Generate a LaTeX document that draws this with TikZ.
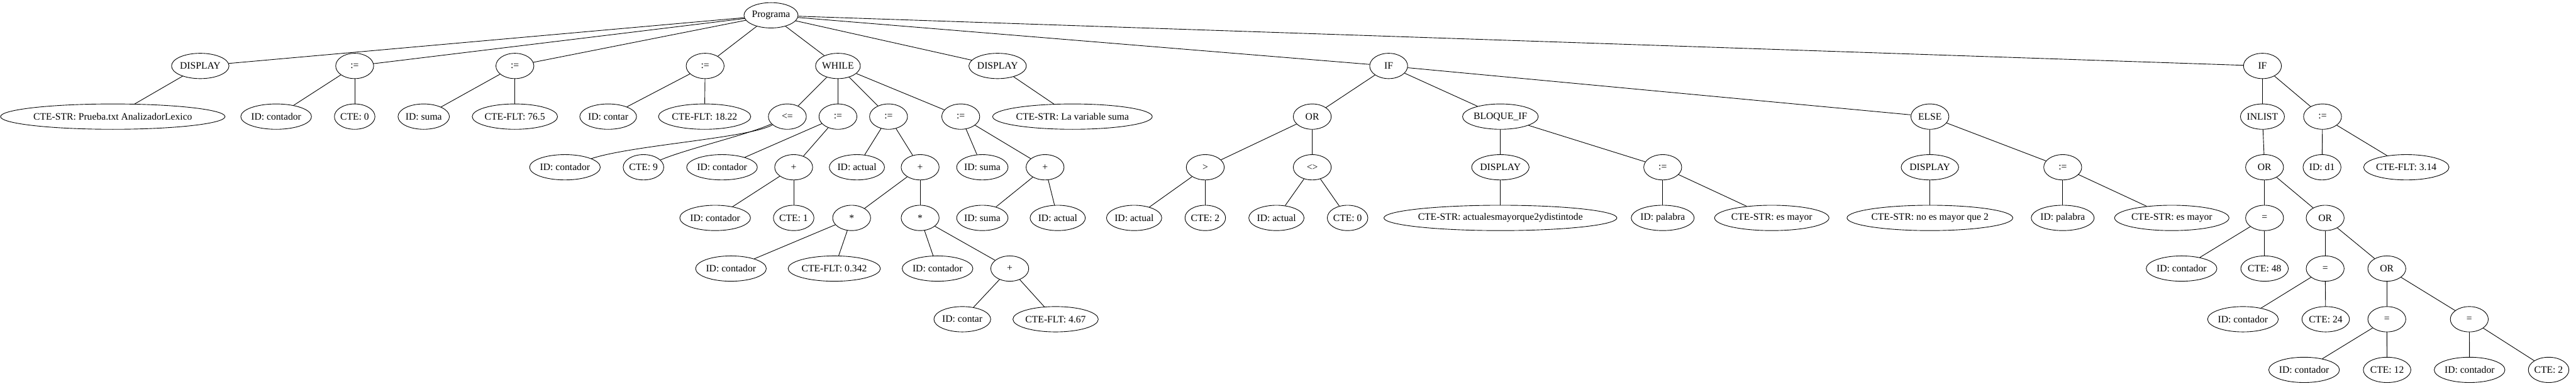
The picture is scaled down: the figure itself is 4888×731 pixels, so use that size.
\documentclass[tikz,border=0pt]{standalone}
\usepackage{fontspec}
\setmainfont{Liberation Serif}
\usetikzlibrary{shapes.geometric}
\newcommand\gvfont{\fontsize{14pt}{16pt}\selectfont}
\newlength\gvwd
\newcommand\gv[4]{%
  \setbox0\hbox{\gvfont #4}%
  \gvwd=\wd0
  \pgfmathsetlength\gvwd{max(54pt,1.30*\gvwd+22.2pt)}%
  \node[gnode,minimum width=\gvwd] (#1) at (#2,#3) {#4};}
\begin{document}
\begin{tikzpicture}[x=0.75pt,y=-0.75pt,
  gnode/.style={draw,ellipse,line width=0.8pt,minimum height=36pt,inner xsep=0pt,inner ysep=2pt,font=\gvfont},
  gline/.style={line width=0.8pt}]
\useasboundingbox (0,0) rectangle (4888,731);
% level 0
\gv{root}{1463}{29}{Programa}
% level 1
\gv{d1}{380}{125}{DISPLAY}
\gv{a1}{673}{125}{:=}
\gv{a2}{977}{125}{:=}
\gv{a3}{1338}{125}{:=}
\gv{wh}{1590}{125}{WHILE}
\gv{d2}{1893}{125}{DISPLAY}
\gv{ifa}{2635}{125}{IF}
\gv{ifb}{4293}{125}{IF}
% level 2
\gv{s1}{214}{221}{CTE-STR: Prueba.txt AnalizadorLexico}
\gv{a1l}{524}{221}{ID: contador}
\gv{a1r}{673}{221}{CTE: 0}
\gv{a2l}{804}{221}{ID: suma}
\gv{a2r}{977}{221}{CTE-FLT: 76.5}
\gv{a3l}{1154}{221}{ID: contar}
\gv{a3r}{1337}{221}{CTE-FLT: 18.22}
\gv{le}{1494}{221}{<=}
\gv{wa}{1590}{221}{:=}
\gv{wb}{1686}{221}{:=}
\gv{wc}{1823}{221}{:=}
\gv{s2}{2035}{221}{CTE-STR: La variable suma}
\gv{ora}{2490}{221}{OR}
\gv{bif}{2847}{221}{BLOQUE\_IF}
\gv{els}{3662}{221}{ELSE}
\gv{inl}{4293}{221}{INLIST}
\gv{a4}{4407}{221}{:=}
% level 3
\gv{lel}{1072}{317}{ID: contador}
\gv{ler}{1221}{317}{CTE: 9}
\gv{wal}{1370}{317}{ID: contador}
\gv{wap}{1506}{317}{+}
\gv{wbl}{1626}{317}{ID: actual}
\gv{wbp}{1746}{317}{+}
\gv{wcl}{1864}{317}{ID: suma}
\gv{wcp}{1983}{317}{+}
\gv{gt}{2287}{317}{>}
\gv{ne}{2490}{317}{<>}
\gv{bd}{2847}{317}{DISPLAY}
\gv{ba}{3155}{317}{:=}
\gv{ed}{3662}{317}{DISPLAY}
\gv{ea}{3914}{317}{:=}
\gv{orb}{4297}{317}{OR}
\gv{a4l}{4406}{317}{ID: d1}
\gv{a4r}{4566}{317}{CTE-FLT: 3.14}
% level 4
\gv{wapl}{1357}{413}{ID: contador}
\gv{wapr}{1506}{413}{CTE: 1}
\gv{ma}{1616}{413}{*}
\gv{mb}{1746}{413}{*}
\gv{wcpl}{1864}{413}{ID: suma}
\gv{wcpr}{2007}{413}{ID: actual}
\gv{gtl}{2152}{413}{ID: actual}
\gv{gtr}{2287}{413}{CTE: 2}
\gv{nel}{2422}{413}{ID: actual}
\gv{ner}{2557}{413}{CTE: 0}
\gv{bds}{2847}{413}{CTE-STR: actualesmayorque2ydistintode}
\gv{bal}{3155}{413}{ID: palabra}
\gv{bar}{3362}{413}{CTE-STR: es mayor}
\gv{eds}{3662}{413}{CTE-STR: no es mayor que 2}
\gv{eal}{3914}{413}{ID: palabra}
\gv{ear}{4121}{413}{CTE-STR: es mayor}
\gv{eqa}{4297}{413}{=}
\gv{orc}{4412}{413}{OR}
% level 5
\gv{mal}{1387}{509}{ID: contador}
\gv{mar}{1583}{509}{CTE-FLT: 0.342}
\gv{mbl}{1779}{509}{ID: contador}
\gv{mbp}{1916}{509}{+}
\gv{eqal}{4139.5}{509}{ID: contador}
\gv{eqar}{4297}{509}{CTE: 48}
\gv{eqb}{4412}{509}{=}
\gv{ord}{4529}{509}{OR}
% level 6
\gv{mbpl}{1826}{605}{ID: contar}
\gv{mbpr}{2003}{605}{CTE-FLT: 4.67}
\gv{eqbl}{4256}{605}{ID: contador}
\gv{eqbr}{4413}{605}{CTE: 24}
\gv{eqc}{4529}{605}{=}
\gv{eqd}{4685.5}{605}{=}
% level 7
\gv{eqcl}{4372}{701}{ID: contador}
\gv{eqcr}{4529.5}{701}{CTE: 12}
\gv{eqdl}{4686}{701}{ID: contador}
\gv{eqdr}{4836}{701}{CTE: 2}
% edges
\begin{scope}[gline]
\foreach \c in {d1,a1,a2,a3,wh,d2,ifa,ifb} \draw (root) -- (\c);
\draw (d1) -- (s1);
\draw (a1) -- (a1l); \draw (a1) -- (a1r);
\draw (a2) -- (a2l); \draw (a2) -- (a2r);
\draw (a3) -- (a3l); \draw (a3) -- (a3r);
\foreach \c in {le,wa,wb,wc} \draw (wh) -- (\c);
\draw (le) .. controls (1420,262) and (1200,275) .. (lel);
\draw (le) .. controls (1420,255) and (1300,283) .. (ler);
\draw (wa) -- (wal); \draw (wa) -- (wap);
\draw (wap) -- (wapl); \draw (wap) -- (wapr);
\draw (wb) -- (wbl); \draw (wb) -- (wbp);
\draw (wbp) -- (ma); \draw (wbp) -- (mb);
\draw (ma) -- (mal); \draw (ma) -- (mar);
\draw (mb) -- (mbl); \draw (mb) -- (mbp);
\draw (mbp) -- (mbpl); \draw (mbp) -- (mbpr);
\draw (wc) -- (wcl); \draw (wc) -- (wcp);
\draw (wcp) -- (wcpl); \draw (wcp) -- (wcpr);
\draw (d2) -- (s2);
\draw (ifa) -- (ora); \draw (ifa) -- (bif); \draw (ifa) -- (els);
\draw (ora) -- (gt); \draw (ora) -- (ne);
\draw (gt) -- (gtl); \draw (gt) -- (gtr);
\draw (ne) -- (nel); \draw (ne) -- (ner);
\draw (bif) -- (bd); \draw (bif) -- (ba);
\draw (bd) -- (bds);
\draw (ba) -- (bal); \draw (ba) -- (bar);
\draw (els) -- (ed); \draw (els) -- (ea);
\draw (ed) -- (eds);
\draw (ea) -- (eal); \draw (ea) -- (ear);
\draw (ifb) -- (inl); \draw (ifb) -- (a4);
\draw (inl) -- (orb);
\draw (a4) -- (a4l); \draw (a4) -- (a4r);
\draw (orb) -- (eqa); \draw (orb) -- (orc);
\draw (eqa) -- (eqal); \draw (eqa) -- (eqar);
\draw (orc) -- (eqb); \draw (orc) -- (ord);
\draw (eqb) -- (eqbl); \draw (eqb) -- (eqbr);
\draw (ord) -- (eqc); \draw (ord) -- (eqd);
\draw (eqc) -- (eqcl); \draw (eqc) -- (eqcr);
\draw (eqd) -- (eqdl); \draw (eqd) -- (eqdr);
\end{scope}
\end{tikzpicture}
\end{document}
